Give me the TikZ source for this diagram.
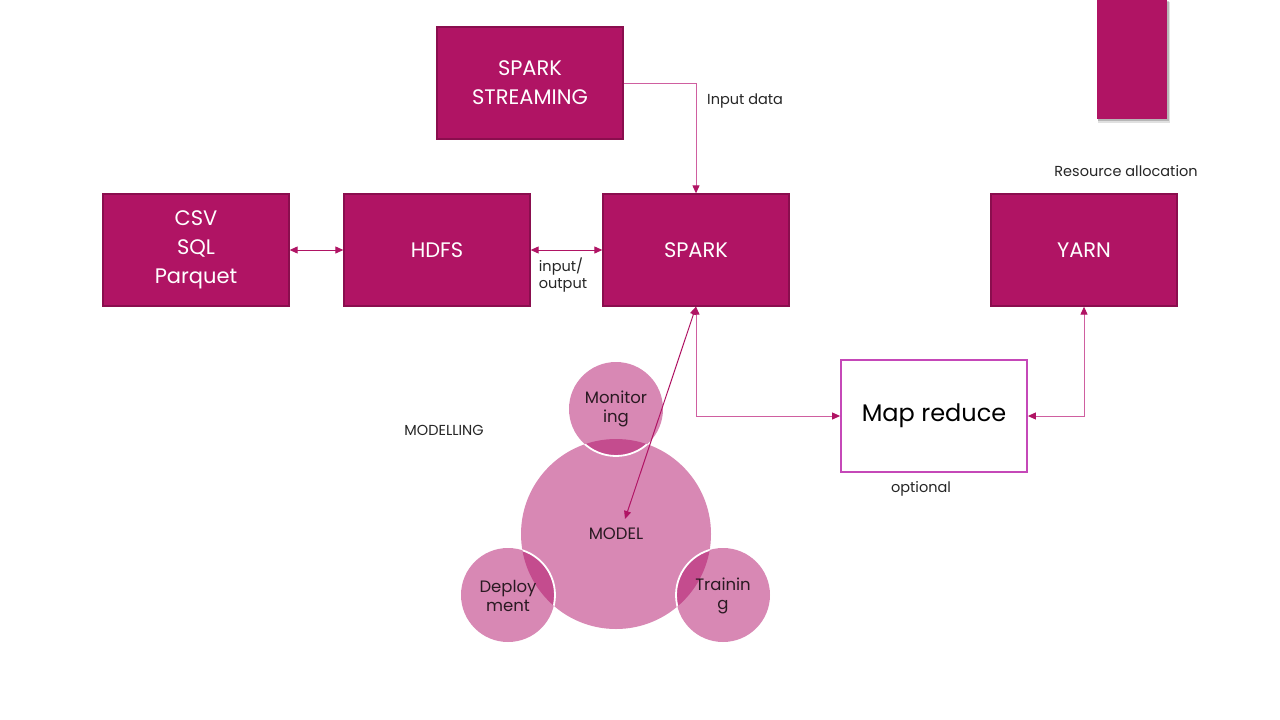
\documentclass[tikz,border=0pt]{standalone}
\usepackage{fontspec}
\setmainfont{Poppins}
\usetikzlibrary{arrows.meta,calc}
\definecolor{mag}{HTML}{B01464}
\definecolor{magdark}{HTML}{8A0E4E}
\definecolor{maglight}{HTML}{CF5FA0}
\definecolor{mrborder}{HTML}{C548B8}
\definecolor{cfill}{HTML}{D888B4}
\definecolor{cover}{HTML}{C44C8E}
\definecolor{ctext}{HTML}{2A1A22}
\tikzset{
  box/.style={draw=magdark, fill=mag, line width=1.3pt, minimum width=186pt, minimum height=112pt,
    inner sep=0pt, text=white, align=center, font=\fontsize{21}{29}\selectfont},
  mrbox/.style={draw=mrborder, fill=white, line width=1.8pt, minimum width=186pt, minimum height=112pt,
    inner sep=0pt, text=black, font=\fontsize{24}{28}\selectfont},
  lbl/.style={text=black!85, font=\fontsize{14.5}{17.5}\selectfont, inner sep=0pt},
  ctxt/.style={text=ctext, font=\fontsize{16.5}{19.5}\selectfont, align=center, inner sep=0pt},
  conn/.style={line width=1pt, color=maglight, arrows={-{Triangle[length=8pt,width=7pt,color=mag,fill=mag]}}},
  dconn/.style={line width=1pt, color=mag, arrows={{Triangle[length=8pt,width=7pt]}-{Triangle[length=8pt,width=7pt]}}},
  dconnl/.style={line width=1pt, color=maglight, arrows={{Triangle[length=8pt,width=7pt,color=mag,fill=mag]}-{Triangle[length=8pt,width=7pt,color=mag,fill=mag]}}},
}
\begin{document}
\begin{tikzpicture}[x=1pt,y=-1pt]
\useasboundingbox[fill=white] (0,0) rectangle (1280,720);

% top right bar with shadow
\fill[black,opacity=0.12] (1098,2) rectangle (1170,123);
\fill[black,opacity=0.18] (1098,1) rectangle (1169,121);
\node[fill=mag, minimum width=70pt, minimum height=119pt, inner sep=0pt] (bar) at (1132,59.5) {};

% boxes
\node[box] (stream) at (530,83) {SPARK\\STREAMING};
\node[box] (csv) at (196,250) {CSV\\SQL\\Parquet};
\node[box] (hdfs) at (437,250) {HDFS};
\node[box] (spark) at (696,250) {SPARK};
\node[box] (yarn) at (1084,250) {YARN};
\node[mrbox] (mapr) at (934,416) {Map reduce};

% circles
\node[circle, fill=cfill, minimum size=190pt, inner sep=0pt] (model) at (616,534) {};
\node[circle, fill=cfill, minimum size=94pt, inner sep=0pt] (mon) at (616,409) {};
\node[circle, fill=cfill, minimum size=94pt, inner sep=0pt] (dep) at (508,595) {};
\node[circle, fill=cfill, minimum size=94pt, inner sep=0pt] (tra) at (723,595) {};
\begin{scope}
  \clip (model.center) circle (95pt);
  \fill[cover] (mon.center) circle (47pt);
  \fill[cover] (dep.center) circle (47pt);
  \fill[cover] (tra.center) circle (47pt);
\end{scope}
\begin{scope}
  \clip (model.center) circle (95pt);
  \draw[white, line width=1.8pt] (mon.center) circle (47pt);
  \draw[white, line width=1.8pt] (dep.center) circle (47pt);
  \draw[white, line width=1.8pt] (tra.center) circle (47pt);
\end{scope}
\node[ctxt] at (model.center) {MODEL};
\node[ctxt] at (616,409) {Monitor\\ing};
\node[ctxt] at (508,596) {Deploy\\ment};
\node[ctxt] at (723,596) {Trainin\\g};

% connectors
\draw[conn] (stream.east) -| (spark.north);
\draw[dconn] (csv.east) -- (hdfs.west);
\draw[dconn] (hdfs.east) -- (spark.west);
\coordinate (mtip) at (625,519);
\draw[dconn] (spark.south) -- (mtip);
\draw[dconnl] (spark.south) |- (mapr.west);
\draw[dconnl] (yarn.south) |- (mapr.east);

% labels
\node[lbl, anchor=west] (lin) at (707,101) {Input data};
\node[lbl, align=left] (lio) at (563,275) {input/\\output};
\node[lbl] (lres) at (1126,171) {Resource allocation};
\node[lbl] (lopt) at (921,489) {optional};
\node[lbl] (lmod) at (444,430) {MODELLING};
\end{tikzpicture}
\end{document}
